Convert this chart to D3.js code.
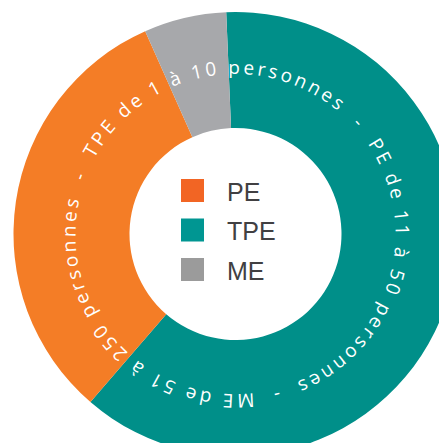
<!DOCTYPE html>
<html><head><meta charset="utf-8">
<script src="https://cdn.jsdelivr.net/npm/d3@7"></script>
<style>
html,body{margin:0;padding:0;background:#fff;}
svg{display:block;}
</style></head>
<body>
<script>
// ---- data ----
const categories = ["TPE", "PE", "ME"];
const shares = [62, 32, 6];
const sliceColors = ["#008f89", "#f47d26", "#a7a8ab"];
const legendLabels = ["PE", "TPE", "ME"];
const legendColors = ["#f26524", "#009692", "#9b9b9b"];
const ringText = "TPE de 1 à 10 personnes  -  PE de 11 à 50 personnes  -  ME de 51 à 250 personnes  -  ";

const W = 439, H = 443;
const cx = 235.5, cy = 234, rOuter = 222, rInner = 106, rText = 160;
const deg = Math.PI / 180;
const FONT = "'Open Sans', sans-serif", FS = 19;

const svg = d3.select("body").append("svg").attr("width", W).attr("height", H);
const g = svg.append("g").attr("transform", `translate(${cx},${cy})`);

const pie = d3.pie().sort(null).value(d => d)
  .startAngle(-2.4 * deg).endAngle(357.6 * deg);
const arc = d3.arc().innerRadius(rInner).outerRadius(rOuter);

g.selectAll("path.slice").data(pie(shares)).join("path")
  .attr("class", "slice")
  .attr("d", arc)
  .attr("fill", (d, i) => sliceColors[i]);

// ring text path (clockwise, starting at -62deg)
const a0 = -62 * deg;
const p = (a) => [rText * Math.sin(a), -rText * Math.cos(a)];
const [sx, sy] = p(a0), [ox, oy] = p(a0 + Math.PI);
svg.append("defs").append("path").attr("id", "ring")
  .attr("d", `M${sx},${sy} A${rText},${rText} 0 1 1 ${ox},${oy} A${rText},${rText} 0 1 1 ${sx},${sy}`);

// measuring helper
const meas = svg.append("text").attr("font-family", FONT).attr("font-size", FS)
  .style("white-space", "pre").attr("x", -1000).attr("y", -1000);
const width = s => { meas.text(s); return s.length ? meas.node().getComputedTextLength() : 0; };
const natural = width(ringText);
const circ = 2 * Math.PI * rText;
const ls = (circ - natural) / ringText.length;

// place each word separately along the ring
const re = /\S+/g;
let m;
while ((m = re.exec(ringText)) !== null) {
  const off = width(ringText.slice(0, m.index)) + m.index * ls;
  g.append("text")
    .attr("font-family", FONT).attr("font-size", FS)
    .attr("fill", "#fff").attr("letter-spacing", ls + "px")
    .append("textPath").attr("href", "#ring").attr("startOffset", off)
    .text(m[0]);
}
meas.remove();

// legend
const leg = g.append("g").attr("transform", `translate(${181 - cx},${179 - cy})`);
const rowH = 39.5;
legendLabels.forEach((lab, i) => {
  const row = leg.append("g").attr("transform", `translate(0,${i * rowH})`);
  row.append("rect").attr("width", 23).attr("height", 23).attr("fill", legendColors[i]);
  row.append("text").attr("x", 46).attr("y", 21.5)
    .attr("font-family", "'Liberation Sans', Arial, sans-serif")
    .attr("font-size", 25).attr("fill", "#414042").text(lab);
});
</script>
</body></html>
